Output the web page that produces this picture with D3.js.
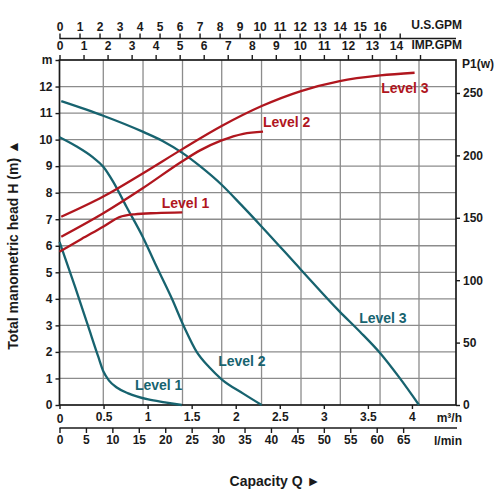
<!DOCTYPE html>
<html><head><meta charset="utf-8">
<script src="https://cdn.jsdelivr.net/npm/d3@7"></script>
<style>
body{margin:0;background:#fff;}
svg text{font-family:"Liberation Sans",Arial,sans-serif;font-weight:bold;fill:#1a1a1a;}
</style></head>
<body><svg id="c" width="500" height="500"></svg>
<script>
// ---- data ----
const levels = ["Level 1","Level 2","Level 3"];
// head curves: [Q m3/h, H m]
const head1 = [[0,6.15],[0.176,4.46],[0.327,2.95],[0.44,1.82],[0.5,1.25],[0.56,0.93],[0.65,0.66],[0.78,0.44],[1.008,0.21],[1.197,0.10],[1.387,0.0]];
const head2 = [[0,10.09],[0.19,9.75],[0.38,9.33],[0.497,8.98],[0.61,8.41],[0.76,7.47],[0.944,6.34],[1.084,5.34],[1.27,4.05],[1.42,2.9],[1.557,2.0],[1.7,1.42],[1.84,0.97],[2.09,0.42],[2.295,0]];
const head3 = [[0.02,11.45],[0.497,10.9],[0.944,10.3],[1.17,9.95],[1.394,9.5],[1.595,9.0],[1.84,8.3],[2.06,7.55],[2.295,6.72],[2.74,5.1],[3.18,3.52],[3.41,2.76],[3.64,1.95],[3.86,1.02],[4.08,0]];
// power curves: [Q m3/h, P1 W]
const power1 = [[0,122.8],[0.25,133],[0.5,143],[0.68,150.5],[0.85,152.8],[1.1,153.8],[1.394,154.4]];
const power2 = [[0.02,134.8],[0.497,153.6],[0.944,173.6],[1.394,195.3],[1.595,204],[1.84,212],[2.085,217.3],[2.31,219]];
const power3 = [[0.02,150.8],[0.497,167],[0.944,185.5],[1.394,205],[1.84,223.5],[2.295,239.5],[2.74,251.5],[3.18,259.5],[3.64,264],[4.03,266.2]];
// label anchors [Q, H]
const headLabelAt = [[1.125,0.75],[2.07,1.64],[3.67,3.29]];
const powerLabelAt = [[1.43,7.6],[2.578,10.65],[3.92,11.94]];
// ticks
const hTicks = [0,1,2,3,4,5,6,7,8,9,10,11,12,13];
const pTicks = [0,50,100,150,200,250];
const m3hTicks = [0,0.5,1,1.5,2,2.5,3,3.5,4];
const lminTicks = [0,5,10,15,20,25,30,35,40,45,50,55,60,65];
const usTicks = [0,1,2,3,4,5,6,7,8,9,10,11,12,13,14,15,16,17];
const impTicks = [0,1,2,3,4,5,6,7,8,9,10,11,12,13,14,15];
const gridQ = [0.497,0.948,1.396,1.841,2.293,2.741,3.187,3.638,4.08];
const gridH = [1,2,3,4,5,6,7,8,9,10,11,12];

const RED = "#b0161e", TEAL = "#17636f";
const L = 59.5, R = 456, T = 60, B = 405;
const x = d3.scaleLinear().domain([0,4.5]).range([L,R]);
const xl = d3.scaleLinear().domain([0,75]).range([L,R]);
const xus = d3.scaleLinear().domain([0,4.5/0.227125]).range([L,R]);
const ximp = d3.scaleLinear().domain([0,4.5/0.272765]).range([L,R]);
const yH = d3.scaleLinear().domain([0,13]).range([B,T]);
const yP = d3.scaleLinear().domain([0,276.4]).range([B,T]);

const svg = d3.select("#c");

// grid
const g = svg.append("g").attr("stroke","#8c8c8c").attr("stroke-width",1.3);
g.selectAll("line.v").data(gridQ).join("line").attr("x1",d=>x(d)).attr("x2",d=>x(d)).attr("y1",T).attr("y2",B);
g.selectAll("line.h").data(gridH).join("line").attr("y1",d=>yH(d)).attr("y2",d=>yH(d)).attr("x1",L).attr("x2",R);

function style(sel){
  sel.selectAll("text").style("font-size","12px").attr("fill","#1a1a1a");
  sel.selectAll("line").attr("stroke","#1a1a1a").attr("stroke-width",1.4);
  sel.select(".domain").attr("stroke","#1a1a1a").attr("stroke-width",1.6);
}

// left axis
svg.append("g").attr("transform",`translate(${L},0)`)
  .call(d3.axisLeft(yH).tickValues(hTicks).tickSize(4).tickPadding(3).tickFormat(d=>d===13?"m":d))
  .call(style).call(s=>s.select(".domain").remove());
// right axis
svg.append("g").attr("transform",`translate(${R},0)`)
  .call(d3.axisRight(yP).tickValues(pTicks).tickSize(4).tickPadding(3))
  .call(style).call(s=>s.select(".domain").remove());
// bottom m3/h
svg.append("g").attr("transform",`translate(0,${B})`)
  .call(d3.axisBottom(x).tickValues(m3hTicks).tickSize(4).tickPadding(3).tickFormat(d=>d))
  .call(style).call(s=>s.select(".domain").remove())
  .call(s=>s.selectAll(".tick text").filter(d=>d===0).attr("dy","0.95em"));
// l/min
svg.append("g").attr("transform",`translate(0,428)`)
  .call(d3.axisBottom(xl).tickValues(lminTicks).tickSize(5).tickPadding(2).tickSizeOuter(0))
  .call(style).call(s=>s.select(".domain").attr("d",`M${L},0H${R+1}`));
// US GPM
svg.append("g").attr("transform",`translate(0,38.5)`)
  .call(d3.axisTop(xus).tickValues(usTicks).tickSize(5).tickPadding(3).tickSizeOuter(0).tickFormat(d=>d===17?"":d))
  .call(style).call(s=>s.select(".domain").attr("d",`M${L},0H${R}`));
// IMP GPM
svg.append("g").attr("transform",`translate(0,${T})`)
  .call(d3.axisTop(ximp).tickValues(impTicks).tickSize(5).tickPadding(5).tickFormat(d=>d===15?"":d))
  .call(style).call(s=>s.select(".domain").remove());

// frame
svg.append("rect").attr("x",L).attr("y",T).attr("width",R-L).attr("height",B-T)
  .attr("fill","none").attr("stroke","#1a1a1a").attr("stroke-width",1.7);

// unit labels
const unit = (t,xx,yy,anchor)=>svg.append("text").attr("x",xx).attr("y",yy).attr("text-anchor",anchor).attr("dominant-baseline","central").style("font-size","12px").text(t);
unit("U.S.GPM",462,25,"end");
unit("IMP.GPM",462,45,"end");
unit("P1(w)",462,64,"start");
unit("m³/h",462,418,"end");
unit("l/min",462,441,"end");

// titles
svg.append("text").attr("transform","translate(13,245) rotate(-90)").attr("text-anchor","middle")
  .attr("dominant-baseline","central").style("font-size","14px").text("Total manometric head H (m) ▲");
svg.append("text").attr("x",275).attr("y",481).attr("text-anchor","middle")
  .attr("dominant-baseline","central").style("font-size","14px").text("Capacity Q ►");

// curves
const lineH = d3.line().x(d=>x(d[0])).y(d=>yH(d[1])).curve(d3.curveMonotoneX);
const lineP = d3.line().x(d=>x(d[0])).y(d=>yP(d[1])).curve(d3.curveMonotoneX);
const heads = [head1,head2,head3], powers = [power1,power2,power3];
svg.append("g").selectAll("path").data(heads).join("path").attr("d",lineH)
  .attr("fill","none").attr("stroke",TEAL).attr("stroke-width",2.3);
svg.append("g").selectAll("path").data(powers).join("path").attr("d",lineP)
  .attr("fill","none").attr("stroke",RED).attr("stroke-width",2.3);

// curve labels
svg.append("g").selectAll("text").data(levels).join("text")
  .attr("x",(d,i)=>x(headLabelAt[i][0])).attr("y",(d,i)=>yH(headLabelAt[i][1]))
  .attr("text-anchor","middle").attr("dominant-baseline","central")
  .style("font-size","14px").style("fill",TEAL).text(d=>d);
svg.append("g").selectAll("text").data(levels).join("text")
  .attr("x",(d,i)=>x(powerLabelAt[i][0])).attr("y",(d,i)=>yH(powerLabelAt[i][1]))
  .attr("text-anchor","middle").attr("dominant-baseline","central")
  .style("font-size","14px").style("fill",RED).text(d=>d);
</script></body></html>
